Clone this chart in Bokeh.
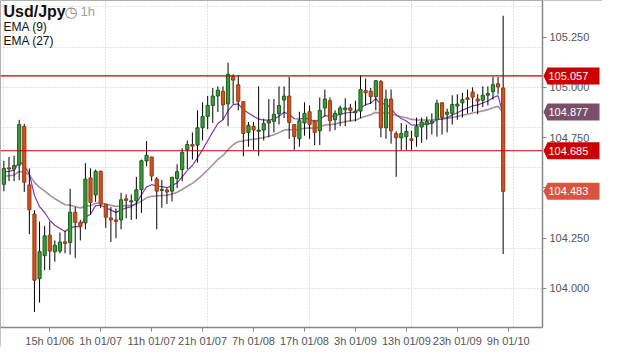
from bokeh.plotting import figure
from bokeh.models import (Range1d, FixedTicker, Label, PolyAnnotation, BoxAnnotation,
                          ColumnDataSource, LinearAxis)
from bokeh.embed import file_html
from bokeh.resources import INLINE

# ---- data (USD/JPY 1h candles from 6h 01/06 to 8h 01/10) ----
opens = [104.518, 104.600, 104.594, 104.613, 104.806, 104.515, 104.370, 104.049, 104.163, 104.265,
         104.183, 104.186, 104.232, 104.228, 104.379, 104.329, 104.326, 104.550, 104.465, 104.583,
         104.420, 104.351, 104.341, 104.341, 104.446, 104.430, 104.436, 104.491, 104.634, 104.654,
         104.544, 104.487, 104.490, 104.484, 104.547, 104.591, 104.689, 104.716, 104.713, 104.799,
         104.855, 104.910, 104.957, 104.981, 104.918, 105.055, 105.013, 104.929, 104.776, 104.807,
         104.781, 104.788, 104.823, 104.831, 104.869, 104.937, 104.957, 104.815, 104.744, 104.823,
         104.879, 104.834, 104.784, 104.898, 104.934, 104.839, 104.866, 104.889, 104.898, 104.874,
         104.882, 104.984, 104.981, 104.954, 105.029, 104.799, 104.942, 104.771, 104.749, 104.755,
         104.744, 104.755, 104.803, 104.815, 104.822, 104.839, 104.923, 104.866, 104.871, 104.907,
         104.923, 104.948, 104.977, 104.942, 104.936, 104.961, 104.978, 105.018, 104.997]
highs = [104.634, 104.654, 104.660, 104.839, 104.818, 104.597, 104.389, 104.333, 104.310, 104.333,
         104.239, 104.278, 104.286, 104.496, 104.405, 104.341, 104.623, 104.597, 104.591, 104.586,
         104.420, 104.405, 104.397, 104.476, 104.468, 104.468, 104.555, 104.641, 104.733, 104.654,
         104.555, 104.539, 104.499, 104.555, 104.618, 104.697, 104.736, 104.776, 104.886, 104.926,
         104.957, 104.997, 105.005, 105.005, 105.123, 105.065, 105.060, 104.929, 104.828, 104.828,
         105.005, 104.844, 104.942, 104.942, 105.005, 105.005, 105.052, 104.815, 104.879, 104.926,
         104.910, 104.839, 104.950, 104.989, 104.950, 104.886, 104.910, 104.946, 104.918, 104.934,
         105.060, 105.044, 104.997, 105.036, 105.036, 104.989, 104.989, 104.781, 104.823, 104.815,
         104.784, 104.850, 104.850, 104.855, 104.871, 104.939, 104.926, 104.894, 104.961, 104.966,
         104.973, 104.989, 105.000, 104.966, 105.005, 105.005, 105.052, 105.052, 105.356]
lows = [104.484, 104.534, 104.534, 104.539, 104.480, 104.270, 103.883, 103.930, 104.092, 104.092,
        104.133, 104.175, 104.175, 104.168, 104.152, 104.239, 104.294, 104.368, 104.431, 104.401,
        104.302, 104.231, 104.250, 104.294, 104.349, 104.341, 104.345, 104.376, 104.607, 104.534,
        104.294, 104.401, 104.420, 104.433, 104.499, 104.534, 104.594, 104.641, 104.626, 104.736,
        104.792, 104.823, 104.878, 104.839, 104.807, 104.918, 104.886, 104.657, 104.705, 104.689,
        104.660, 104.736, 104.752, 104.776, 104.815, 104.847, 104.744, 104.689, 104.705, 104.760,
        104.744, 104.713, 104.713, 104.855, 104.781, 104.787, 104.807, 104.807, 104.831, 104.831,
        104.847, 104.910, 104.918, 104.886, 104.752, 104.744, 104.720, 104.555, 104.689, 104.689,
        104.689, 104.705, 104.724, 104.740, 104.765, 104.755, 104.765, 104.776, 104.815, 104.839,
        104.850, 104.871, 104.879, 104.866, 104.902, 104.910, 104.939, 104.966, 104.171]
closes = [104.597, 104.594, 104.611, 104.815, 104.528, 104.392, 104.041, 104.183, 104.262, 104.186,
          104.215, 104.231, 104.224, 104.379, 104.329, 104.307, 104.544, 104.428, 104.583, 104.420,
          104.354, 104.341, 104.333, 104.441, 104.438, 104.436, 104.491, 104.635, 104.662, 104.559,
          104.484, 104.493, 104.480, 104.553, 104.581, 104.676, 104.716, 104.708, 104.799, 104.855,
          104.910, 104.957, 104.986, 104.913, 105.065, 105.036, 104.931, 104.771, 104.811, 104.788,
          104.788, 104.820, 104.834, 104.866, 104.910, 104.957, 104.826, 104.755, 104.834, 104.871,
          104.815, 104.776, 104.886, 104.942, 104.834, 104.871, 104.898, 104.898, 104.886, 104.882,
          104.989, 104.973, 104.954, 105.033, 104.799, 104.942, 104.784, 104.749, 104.771, 104.781,
          104.736, 104.807, 104.828, 104.831, 104.831, 104.921, 104.850, 104.877, 104.915, 104.917,
          104.939, 104.940, 104.951, 104.932, 104.961, 104.970, 105.013, 105.002, 104.483]

x_tick_index = [9, 19, 29, 39, 49, 59, 69, 79, 89, 99]
x_tick_labels = ["15h 01/06", "1h 01/07", "11h 01/07", "21h 01/07", "7h 01/08",
                 "17h 01/08", "3h 01/09", "13h 01/09", "23h 01/09", "9h 01/10"]
y_ticks = [104.0, 104.25, 104.5, 104.75, 105.0, 105.25]
level_lines = [105.057, 104.685]
ema_tag_value = 104.877
last_close_tag = 104.483
ema9_start = 104.575
ema27_start = 104.555

# ---- derived series ----
def ema(vals, n, start):
    k = 2.0 / (n + 1)
    out, e = [], start
    for v in vals:
        e = e + k * (v - e)
        out.append(e)
    return out

idx = list(range(len(closes)))
ema9 = ema(closes, 9, ema9_start)
ema27 = ema(closes, 27, ema27_start)

INC_FILL, INC_LINE = "#3a9c3a", "#1c5a1c"
DEC_FILL, DEC_LINE = "#d2511c", "#963810"
src = ColumnDataSource(dict(
    x=idx,
    h=highs, l=lows,
    top=[max(a, b) for a, b in zip(opens, closes)],
    bot=[min(a, b) for a, b in zip(opens, closes)],
    fill=[INC_FILL if c >= o else DEC_FILL for o, c in zip(opens, closes)],
    line=[INC_LINE if c >= o else DEC_LINE for o, c in zip(opens, closes)],
))

# ---- geometry ----
W, H = 602, 347            # whole canvas == frame
PW, PH = 542, 327          # price area (left/top part of the frame)
PX0, PX1 = -0.667, 105.72  # index range of the price area
PY0, PY1 = 103.806, 105.432
X1 = PX0 + (PX1 - PX0) * W / PW
Y0 = PY1 - (PY1 - PY0) * H / PH
FONT = "Liberation Sans"

p = figure(width=W, height=H, x_range=Range1d(PX0, X1), y_range=Range1d(Y0, PY1),
           output_backend="svg", toolbar_location=None, x_axis_location=None, y_axis_location=None,
           min_border_left=0, min_border_top=0, min_border_right=0, min_border_bottom=0)
p.background_fill_color = "white"
p.border_fill_color = "white"
p.outline_line_color = "#b0b0b0"

yax = LinearAxis(fixed_location=PX1, bounds=(PY0, PY1))
xax = LinearAxis(fixed_location=PY0, bounds=(PX0, PX1))
p.add_layout(yax, "right")
p.add_layout(xax, "below")
for ax in (xax, yax):
    ax.axis_line_color = "#888888"
    ax.axis_line_width = 1.5
    ax.major_tick_line_color = "#888888"
    ax.major_tick_out = 4
    ax.major_tick_in = 0
    ax.minor_tick_line_color = None
    ax.major_label_text_color = "#555555"
    ax.major_label_text_font = FONT
    ax.major_label_text_font_size = "11px"
    ax.major_label_standoff = 3

xax.ticker = FixedTicker(ticks=x_tick_index)
xax.major_label_overrides = {t: s for t, s in zip(x_tick_index, x_tick_labels)}
yax.ticker = FixedTicker(ticks=y_ticks)
yax.major_label_overrides = {t: f"{t:.3f}" for t in y_ticks}

for g in (p.xgrid[0], p.ygrid[0]):
    g.grid_line_color = "#c8c8c8"
    g.grid_line_dash = "1 2"

# white cover for the axis areas (hides grid lines outside the price area)
p.add_layout(BoxAnnotation(left=PX1, fill_color="white", fill_alpha=1, line_color=None, level="underlay"))
p.add_layout(BoxAnnotation(top=PY0, fill_color="white", fill_alpha=1, line_color=None, level="underlay"))

# EMA lines
p.line(idx, ema27, line_color="#a8909c", line_width=1.6)
p.line(idx, ema9, line_color="#7a3cb4", line_width=1.2)

# candles
p.segment(x0="x", y0="l", x1="x", y1="h", source=src, line_color="black", line_width=1)
p.vbar(x="x", top="top", bottom="bot", width=0.62, source=src,
       fill_color="fill", line_color="line", line_width=1)

# support / resistance levels, across the price area only
p.segment(x0=[PX0] * len(level_lines), y0=level_lines, x1=[PX1] * len(level_lines), y1=level_lines,
          line_color="#c00000", line_width=1.1)

# price tags on the right axis
px_per_unit = PH / (PY1 - PY0)
hh = 8.5 / px_per_unit
tags = [(level_lines[0], "#cc0000"), (ema_tag_value, "#7a5068"),
        (level_lines[1], "#cc0000"), (last_close_tag, "#d9533f")]
for v, col in tags:
    p.add_layout(PolyAnnotation(xs=[PW + 1, PW + 5, PW + 57, PW + 57, PW + 5], xs_units="screen",
                                ys=[v, v + hh, v + hh, v - hh, v - hh], ys_units="data",
                                fill_color=col, fill_alpha=1.0, line_color=None))
    p.add_layout(Label(x=PW + 6, x_units="screen", y=v, y_units="data", text=f"{v:.3f}",
                       text_color="white", text_font=FONT, text_font_size="11px",
                       text_baseline="middle", text_align="left"))

# title / legend texts
p.add_layout(Label(x=3, y=H - 2, x_units="screen", y_units="screen", text="Usd/Jpy",
                   text_font=FONT, text_font_style="bold", text_font_size="16px",
                   text_color="#111111", text_baseline="top"))
p.add_layout(Label(x=64, y=H - 2, x_units="screen", y_units="screen", text="\u25F7",
                   text_font="DejaVu Sans", text_font_size="15px",
                   text_color="#8a8a8a", text_baseline="top"))
p.add_layout(Label(x=80, y=H - 3, x_units="screen", y_units="screen", text="1h",
                   text_font=FONT, text_font_size="13px",
                   text_color="#a0a0a0", text_baseline="top"))
p.add_layout(Label(x=3, y=H - 19, x_units="screen", y_units="screen", text="EMA (9)",
                   text_font=FONT, text_font_size="12px",
                   text_color="#111111", text_baseline="top"))
p.add_layout(Label(x=3, y=H - 33, x_units="screen", y_units="screen", text="EMA (27)",
                   text_font=FONT, text_font_size="12px",
                   text_color="#111111", text_baseline="top"))

open("out.html", "w").write(file_html(p, INLINE))
